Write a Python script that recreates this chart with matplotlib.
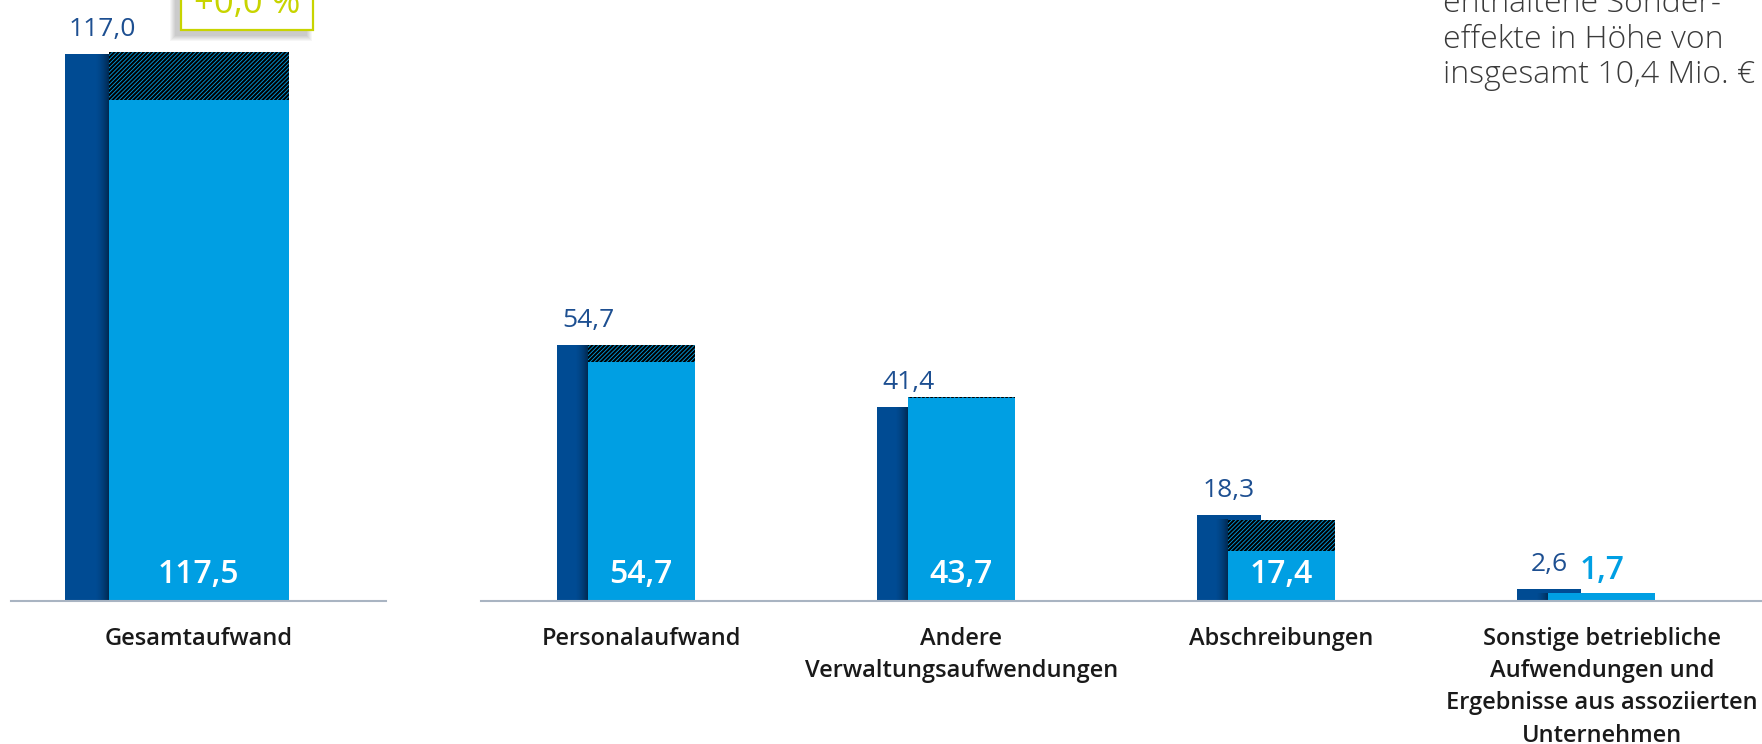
import numpy as np
import matplotlib
matplotlib.use('Agg')
import matplotlib.pyplot as plt
from matplotlib.patches import Rectangle

plt.rcParams['font.family'] = ['Open Sans', 'DejaVu Sans']
plt.rcParams['hatch.linewidth'] = 1.5

# data (Mio. €)
categories = ['Gesamtaufwand', 'Personalaufwand', 'Andere\nVerwaltungsaufwendungen',
              'Abschreibungen',
              'Sonstige betriebliche\nAufwendungen und\nErgebnisse aus assoziierten\nUnternehmen']
prev_year = [117.0, 54.7, 41.4, 18.3, 2.6]
curr_year = [117.5, 54.7, 43.7, 17.4, 1.7]
special = [10.4, 3.6, 0.2, 6.6, 0.0]
note_lines = ['enthaltene Sonder-', 'effekte in Höhe von', 'insgesamt 10,4 Mio. €']
change_label = '+0,0 %'

DARK = '#004b93'
LIGHT = '#009fe3'
LABEL_DARK = '#1d4f91'
GREEN = '#c8d400'
BASE = '#a9b4c2'

W, H = 1762, 744
fig = plt.figure(figsize=(W / 100, H / 100), dpi=100)

px_per_unit = 4.675
ytop = 601 / px_per_unit

ax1 = fig.add_axes([11 / W, 143 / H, 375 / W, 601 / H])
ax2 = fig.add_axes([481 / W, 143 / H, 1281 / W, 601 / H])

# layout per axes: light width, dark width, gap dark-left to light-left, shadow width
layouts = {
    'left': dict(light=0.48, dark=0.203, gap=0.117, shadow=0.035),
    'right': dict(light=0.334, dark=0.2, gap=0.097, shadow=0.04),
}


def fmt(v):
    return f'{v:.1f}'.replace('.', ',')


def shadow(ax, x_right, h, width):
    grad = np.zeros((1, 24, 4))
    grad[..., 3] = np.linspace(0, 0.6, 24) ** 1.6
    ax.imshow(grad, extent=(x_right - width, x_right, 0, h), aspect='auto',
              interpolation='bilinear', zorder=2)


for i, cat in enumerate(categories):
    if i == 0:
        ax, xc, lay = ax1, 0.0, layouts['left']
    else:
        ax, xc, lay = ax2, float(i - 1), layouts['right']
    light_left = xc - lay['light'] / 2
    dark_left = light_left - lay['gap']
    dark_c = dark_left + lay['dark'] / 2

    ax.bar(dark_left, prev_year[i], width=lay['dark'], align='edge', color=DARK, zorder=1)
    solid = curr_year[i] - special[i]
    ax.bar(xc, solid, width=lay['light'], color=LIGHT, zorder=3)
    if special[i] > 0:
        ax.bar(xc, special[i], bottom=solid, width=lay['light'], color=LIGHT,
               edgecolor='black', linewidth=0, hatch='////////', antialiased=False,
               zorder=3)
    shadow(ax, light_left, min(prev_year[i], curr_year[i]), lay['shadow'])

    ax.annotate(fmt(prev_year[i]), xy=(dark_c, prev_year[i]), xytext=(0, 13),
                textcoords='offset points', ha='center', va='baseline',
                fontsize=19, color=LABEL_DARK, annotation_clip=False)
    if curr_year[i] > 8:
        ax.annotate(fmt(curr_year[i]), xy=(xc, 0), xytext=(0, 13),
                    textcoords='offset points', ha='center', va='baseline',
                    fontsize=23, fontweight='semibold', color='white', zorder=5)
    else:
        ax.annotate(fmt(curr_year[i]), xy=(xc, curr_year[i]), xytext=(0, 10),
                    textcoords='offset points', ha='center', va='baseline',
                    fontsize=23, fontweight='semibold', color=LIGHT,
                    annotation_clip=False)

    ax.annotate(cat, xy=(xc, 0), xytext=(0, -18.5), textcoords='offset points',
                ha='center', va='top', fontsize=17, fontweight='semibold',
                color='#1a1a1a', linespacing=1.46, annotation_clip=False)

for ax in (ax1, ax2):
    ax.axhline(0, color=BASE, lw=1.5, clip_on=False, zorder=4)
    ax.set_ylim(0, ytop)
    ax.axis('off')
ax1.set_xlim(-0.5, 0.5)
ax2.set_xlim(-0.5, 3.5)

# change box (top cut off)
bx0, bx1, bby = 181, 313, 30
for k in range(6):
    fig.patches.append(Rectangle(((bx0 - 6 - k) / W, (H - bby - 6 - k) / H),
                                 (bx1 - bx0 + 2 * k) / W, (bby + 40) / H,
                                 transform=fig.transFigure, facecolor='black',
                                 alpha=0.035, edgecolor='none'))
fig.patches.append(Rectangle((bx0 / W, (H - bby) / H), (bx1 - bx0) / W, (bby + 40) / H,
                             transform=fig.transFigure, facecolor='white',
                             edgecolor=GREEN, linewidth=1.6))
fig.text(247 / W, (H - 13) / H, change_label, ha='center', va='baseline',
         fontsize=25, color=GREEN)

# note text at top right
for j, line in enumerate(note_lines):
    fig.text(1443 / W, (H - 12 - 35.6 * j) / H, line, ha='left', va='baseline',
             fontsize=23, fontweight='light', color='#3a3a3a')

fig.savefig('out.png', dpi=100)
